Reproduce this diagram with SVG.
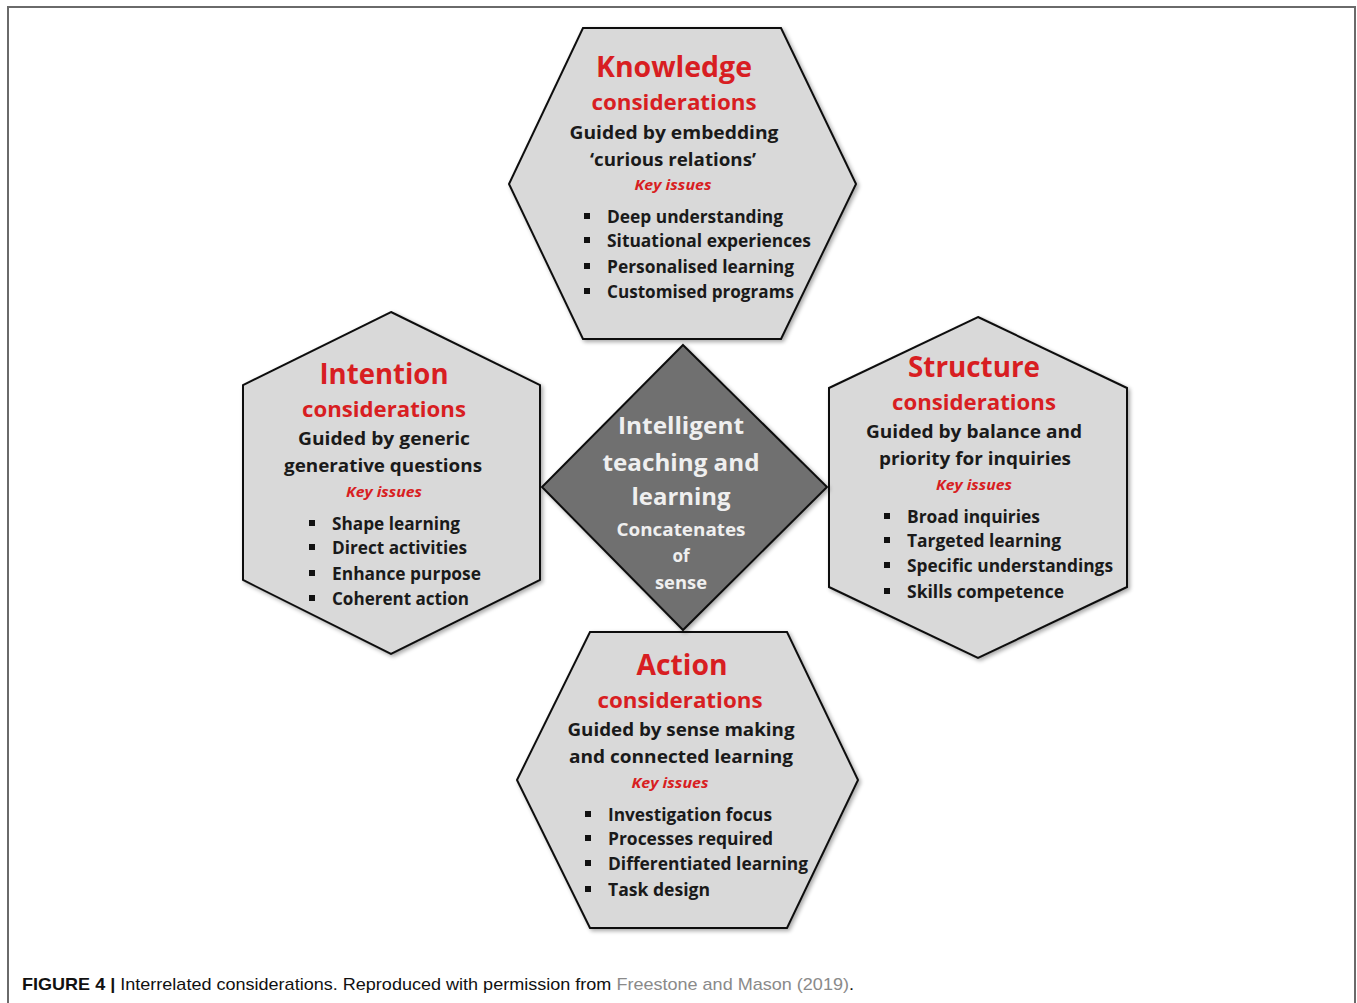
<svg xmlns="http://www.w3.org/2000/svg" width="1357" height="1003" viewBox="0 0 1357 1003">
<style>
.frame{fill:none;stroke:#6a6a6a;stroke-width:2}
.hex{fill:#d9d9d9;stroke:#111;stroke-width:2;stroke-linejoin:miter}
.dia{fill:#707070;stroke:#111;stroke-width:2}
text{font-family:"Open Sans","Noto Sans","Liberation Sans",sans-serif;font-weight:700;text-anchor:middle}
.t1{fill:#d81e22;font-size:28px}
.t2{fill:#d81e22;font-size:22px}
.g{fill:#1a1a1a;font-size:18px}
.k{fill:#d81e22;font-size:14px;font-style:italic}
.b{fill:#1a1a1a;font-size:18px;text-anchor:start}
.c1{fill:#efefef;font-size:24px}
.c2{fill:#efefef;font-size:17px}
.sq{fill:#111}
.cap{font-family:"Liberation Sans",Arial,sans-serif;font-size:17px;text-anchor:start;font-weight:400;fill:#111}
</style>
<defs>
<filter id="sh" x="-10%" y="-10%" width="130%" height="130%">
<feGaussianBlur in="SourceAlpha" stdDeviation="2"/>
<feOffset dx="2" dy="2" result="o"/>
<feComponentTransfer><feFuncA type="linear" slope="0.35"/></feComponentTransfer>
<feMerge><feMergeNode/><feMergeNode in="SourceGraphic"/></feMerge>
</filter>
</defs>
<rect width="1357" height="1003" fill="#fff"/>
<path class="frame" d="M8,1003 V7 H1355 V1003"/>

<g id="knowledge">
<polygon class="hex" filter="url(#sh)" points="583,28 781,28 856,184 781,339 583,339 509,184"/>
<text class="t1" x="674" y="77" textLength="156" lengthAdjust="spacingAndGlyphs">Knowledge</text>
<text class="t2" x="674" y="110" textLength="165" lengthAdjust="spacingAndGlyphs">considerations</text>
<text class="g" x="674" y="139" textLength="209" lengthAdjust="spacingAndGlyphs">Guided by embedding</text>
<text class="g" x="673" y="166" textLength="166" lengthAdjust="spacingAndGlyphs">‘curious relations’</text>
<text class="k" x="673" y="190" textLength="77" lengthAdjust="spacingAndGlyphs">Key issues</text>
<rect class="sq" x="584" y="213" width="6" height="6"/>
<rect class="sq" x="584" y="237" width="6" height="6"/>
<rect class="sq" x="584" y="263" width="6" height="6"/>
<rect class="sq" x="584" y="288" width="6" height="6"/>
<text class="b" x="607" y="223" textLength="176" lengthAdjust="spacingAndGlyphs">Deep understanding</text>
<text class="b" x="607" y="247" textLength="204" lengthAdjust="spacingAndGlyphs">Situational experiences</text>
<text class="b" x="607" y="273" textLength="187" lengthAdjust="spacingAndGlyphs">Personalised learning</text>
<text class="b" x="607" y="298" textLength="187" lengthAdjust="spacingAndGlyphs">Customised programs</text>
</g>

<g id="intention">
<polygon class="hex" filter="url(#sh)" points="391,312 540,385 540,580 391,654 243,580 243,385"/>
<text class="t1" x="384" y="384" textLength="129" lengthAdjust="spacingAndGlyphs">Intention</text>
<text class="t2" x="384" y="417" textLength="164" lengthAdjust="spacingAndGlyphs">considerations</text>
<text class="g" x="384" y="445" textLength="172" lengthAdjust="spacingAndGlyphs">Guided by generic</text>
<text class="g" x="383" y="472" textLength="198" lengthAdjust="spacingAndGlyphs">generative questions</text>
<text class="k" x="384" y="497" textLength="76" lengthAdjust="spacingAndGlyphs">Key issues</text>
<rect class="sq" x="309" y="520" width="6" height="6"/>
<rect class="sq" x="309" y="544" width="6" height="6"/>
<rect class="sq" x="309" y="570" width="6" height="6"/>
<rect class="sq" x="309" y="595" width="6" height="6"/>
<text class="b" x="332" y="530" textLength="128" lengthAdjust="spacingAndGlyphs">Shape learning</text>
<text class="b" x="332" y="554" textLength="135" lengthAdjust="spacingAndGlyphs">Direct activities</text>
<text class="b" x="332" y="580" textLength="149" lengthAdjust="spacingAndGlyphs">Enhance purpose</text>
<text class="b" x="332" y="605" textLength="137" lengthAdjust="spacingAndGlyphs">Coherent action</text>
</g>

<g id="structure">
<polygon class="hex" filter="url(#sh)" points="978,317 1127,388 1127,587 978,658 829,587 829,388"/>
<text class="t1" x="974" y="377" textLength="132" lengthAdjust="spacingAndGlyphs">Structure</text>
<text class="t2" x="974" y="410" textLength="164" lengthAdjust="spacingAndGlyphs">considerations</text>
<text class="g" x="974" y="438" textLength="216" lengthAdjust="spacingAndGlyphs">Guided by balance and</text>
<text class="g" x="975" y="465" textLength="192" lengthAdjust="spacingAndGlyphs">priority for inquiries</text>
<text class="k" x="974" y="490" textLength="76" lengthAdjust="spacingAndGlyphs">Key issues</text>
<rect class="sq" x="884" y="513" width="6" height="6"/>
<rect class="sq" x="884" y="537" width="6" height="6"/>
<rect class="sq" x="884" y="562" width="6" height="6"/>
<rect class="sq" x="884" y="588" width="6" height="6"/>
<text class="b" x="907" y="523" textLength="133" lengthAdjust="spacingAndGlyphs">Broad inquiries</text>
<text class="b" x="907" y="547" textLength="154" lengthAdjust="spacingAndGlyphs">Targeted learning</text>
<text class="b" x="907" y="572" textLength="206" lengthAdjust="spacingAndGlyphs">Specific understandings</text>
<text class="b" x="907" y="598" textLength="157" lengthAdjust="spacingAndGlyphs">Skills competence</text>
</g>

<g id="action">
<polygon class="hex" filter="url(#sh)" points="590,632 787,632 858,780 787,928 590,928 517,780"/>
<text class="t1" x="682" y="675" textLength="91" lengthAdjust="spacingAndGlyphs">Action</text>
<text class="t2" x="680" y="708" textLength="165" lengthAdjust="spacingAndGlyphs">considerations</text>
<text class="g" x="681" y="736" textLength="227" lengthAdjust="spacingAndGlyphs">Guided by sense making</text>
<text class="g" x="681" y="763" textLength="224" lengthAdjust="spacingAndGlyphs">and connected learning</text>
<text class="k" x="670" y="788" textLength="77" lengthAdjust="spacingAndGlyphs">Key issues</text>
<rect class="sq" x="585" y="811" width="6" height="6"/>
<rect class="sq" x="585" y="835" width="6" height="6"/>
<rect class="sq" x="585" y="860" width="6" height="6"/>
<rect class="sq" x="585" y="886" width="6" height="6"/>
<text class="b" x="608" y="821" textLength="164" lengthAdjust="spacingAndGlyphs">Investigation focus</text>
<text class="b" x="608" y="845" textLength="165" lengthAdjust="spacingAndGlyphs">Processes required</text>
<text class="b" x="608" y="870" textLength="200" lengthAdjust="spacingAndGlyphs">Differentiated learning</text>
<text class="b" x="608" y="896" textLength="102" lengthAdjust="spacingAndGlyphs">Task design</text>
</g>

<g id="center">
<polygon class="dia" filter="url(#sh)" points="683,345 827,487 683,630 542,487"/>
<text class="c1" x="681" y="434" textLength="126" lengthAdjust="spacingAndGlyphs">Intelligent</text>
<text class="c1" x="681" y="471" textLength="157" lengthAdjust="spacingAndGlyphs">teaching and</text>
<text class="c1" x="681" y="505" textLength="99" lengthAdjust="spacingAndGlyphs">learning</text>
<text class="c2" x="681" y="536" textLength="129" lengthAdjust="spacingAndGlyphs">Concatenates</text>
<text class="c2" x="681" y="562">of</text>
<text class="c2" x="681" y="589" textLength="52" lengthAdjust="spacingAndGlyphs">sense</text>
</g>

<g id="connectors"></g>

<text class="cap" x="22" y="990" textLength="832" lengthAdjust="spacingAndGlyphs"><tspan font-weight="700">FIGURE 4 |</tspan> Interrelated considerations. Reproduced with permission from <tspan fill="#8a8a8a">Freestone and Mason (2019)</tspan>.</text>
</svg>
